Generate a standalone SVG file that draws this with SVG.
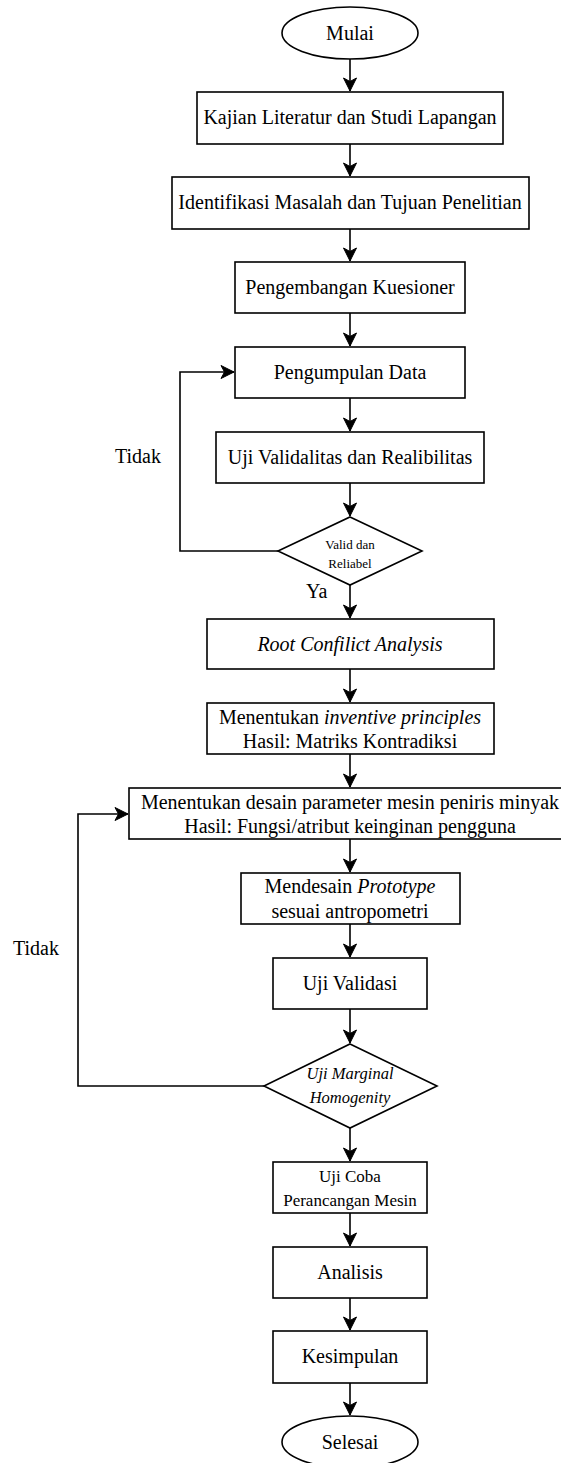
<svg xmlns="http://www.w3.org/2000/svg" width="561" height="1463" viewBox="0 0 561 1463">
<style>
.n{fill:#fff;stroke:#000;stroke-width:1.6}
.t{font-family:"Liberation Serif","Times New Roman",serif;font-size:20px;fill:#000;text-anchor:middle}
.l{font-family:"Liberation Serif","Times New Roman",serif;font-size:20px;fill:#000}
.i{font-style:italic}
.c{fill:none;stroke:#000;stroke-width:1.6}
</style>
<defs>
<marker id="ah" markerUnits="userSpaceOnUse" markerWidth="16" markerHeight="16" viewBox="-14 -8 16 16" refX="0" refY="0" orient="auto">
<path d="M0,0 L-13,-6.5 L-9.5,0 L-13,6.5 Z" fill="#000" stroke="#000" stroke-width="1"/>
</marker>
</defs>
<rect width="561" height="1463" fill="#fff"/>
<g id="connectors">
<path class="c" d="M350,59 V91" marker-end="url(#ah)"/>
<path class="c" d="M350,144 V176" marker-end="url(#ah)"/>
<path class="c" d="M350,229 V261" marker-end="url(#ah)"/>
<path class="c" d="M350,313 V346" marker-end="url(#ah)"/>
<path class="c" d="M350,398 V431" marker-end="url(#ah)"/>
<path class="c" d="M350,483 V516" marker-end="url(#ah)"/>
<path class="c" d="M278,551 H180 V372 H234" marker-end="url(#ah)"/>
<path class="c" d="M350,585 V618" marker-end="url(#ah)"/>
<path class="c" d="M350,669 V702" marker-end="url(#ah)"/>
<path class="c" d="M350,754 V787" marker-end="url(#ah)"/>
<path class="c" d="M350,839 V872" marker-end="url(#ah)"/>
<path class="c" d="M350,924 V957" marker-end="url(#ah)"/>
<path class="c" d="M350,1009 V1043" marker-end="url(#ah)"/>
<path class="c" d="M264,1086 H78 V814 H128" marker-end="url(#ah)"/>
<path class="c" d="M350,1128 V1161" marker-end="url(#ah)"/>
<path class="c" d="M350,1213 V1246" marker-end="url(#ah)"/>
<path class="c" d="M350,1298 V1330" marker-end="url(#ah)"/>
<path class="c" d="M350,1383 V1415" marker-end="url(#ah)"/>
</g>
<g id="labels">
<text class="l" x="115" y="463">Tidak</text>
<text class="l" x="306" y="598">Ya</text>
<text class="l" x="13" y="955">Tidak</text>
</g>
<g id="mulai"><ellipse class="n" cx="350" cy="33" rx="68" ry="26"/><text class="t" x="350" y="40">Mulai</text></g>
<g id="kajian"><rect class="n" x="197" y="92" width="306" height="52"/><text class="t" x="350" y="124">Kajian Literatur dan Studi Lapangan</text></g>
<g id="identifikasi"><rect class="n" x="172" y="177" width="357" height="52"/><text class="t" x="350" y="209">Identifikasi Masalah dan Tujuan Penelitian</text></g>
<g id="kuesioner"><rect class="n" x="235" y="262" width="230" height="51"/><text class="t" x="350" y="294">Pengembangan Kuesioner</text></g>
<g id="pengumpulan"><rect class="n" x="235" y="347" width="230" height="51"/><text class="t" x="350" y="379">Pengumpulan Data</text></g>
<g id="ujivalid"><rect class="n" x="216" y="432" width="268" height="51"/><text class="t" x="350" y="464">Uji Validalitas dan Realibilitas</text></g>
<g id="valid"><path class="n" d="M350,517 L422,551 L350,585 L278,551 Z"/><text class="t" x="350" y="549" style="font-size:13px">Valid dan</text><text class="t" x="350" y="568" style="font-size:13px">Reliabel</text></g>
<g id="root"><rect class="n" x="207" y="619" width="287" height="50"/><text class="t i" x="350" y="651">Root Confilict Analysis</text></g>
<g id="inventive"><rect class="n" x="207" y="703" width="287" height="51"/><text class="t" x="350" y="724">Menentukan <tspan class="i">inventive principles</tspan></text><text class="t" x="350" y="748">Hasil: Matriks Kontradiksi</text></g>
<g id="parameter"><rect class="n" x="129" y="788" width="442" height="51"/><text class="t" x="350" y="809">Menentukan desain parameter mesin peniris minyak</text><text class="t" x="350" y="833">Hasil: Fungsi/atribut keinginan pengguna</text></g>
<g id="prototype"><rect class="n" x="241" y="873" width="219" height="51"/><text class="t" x="350" y="893">Mendesain <tspan class="i">Prototype</tspan></text><text class="t" x="350" y="918">sesuai antropometri</text></g>
<g id="ujivalidasi"><rect class="n" x="273" y="958" width="154" height="51"/><text class="t" x="350" y="990">Uji Validasi</text></g>
<g id="marginal"><path class="n" d="M350,1044 L437,1086 L350,1128 L264,1086 Z"/><text class="t i" x="350" y="1079" style="font-size:16.5px">Uji Marginal</text><text class="t i" x="350" y="1103" style="font-size:16.5px">Homogenity</text></g>
<g id="ujicoba"><rect class="n" x="273" y="1162" width="154" height="51"/><text class="t" x="350" y="1182" style="font-size:17px">Uji Coba</text><text class="t" x="350" y="1206" style="font-size:17px">Perancangan Mesin</text></g>
<g id="analisis"><rect class="n" x="273" y="1247" width="154" height="51"/><text class="t" x="350" y="1279">Analisis</text></g>
<g id="kesimpulan"><rect class="n" x="273" y="1331" width="154" height="52"/><text class="t" x="350" y="1363">Kesimpulan</text></g>
<g id="selesai"><ellipse class="n" cx="350" cy="1442" rx="68" ry="26"/><text class="t" x="350" y="1449">Selesai</text></g>
</svg>
